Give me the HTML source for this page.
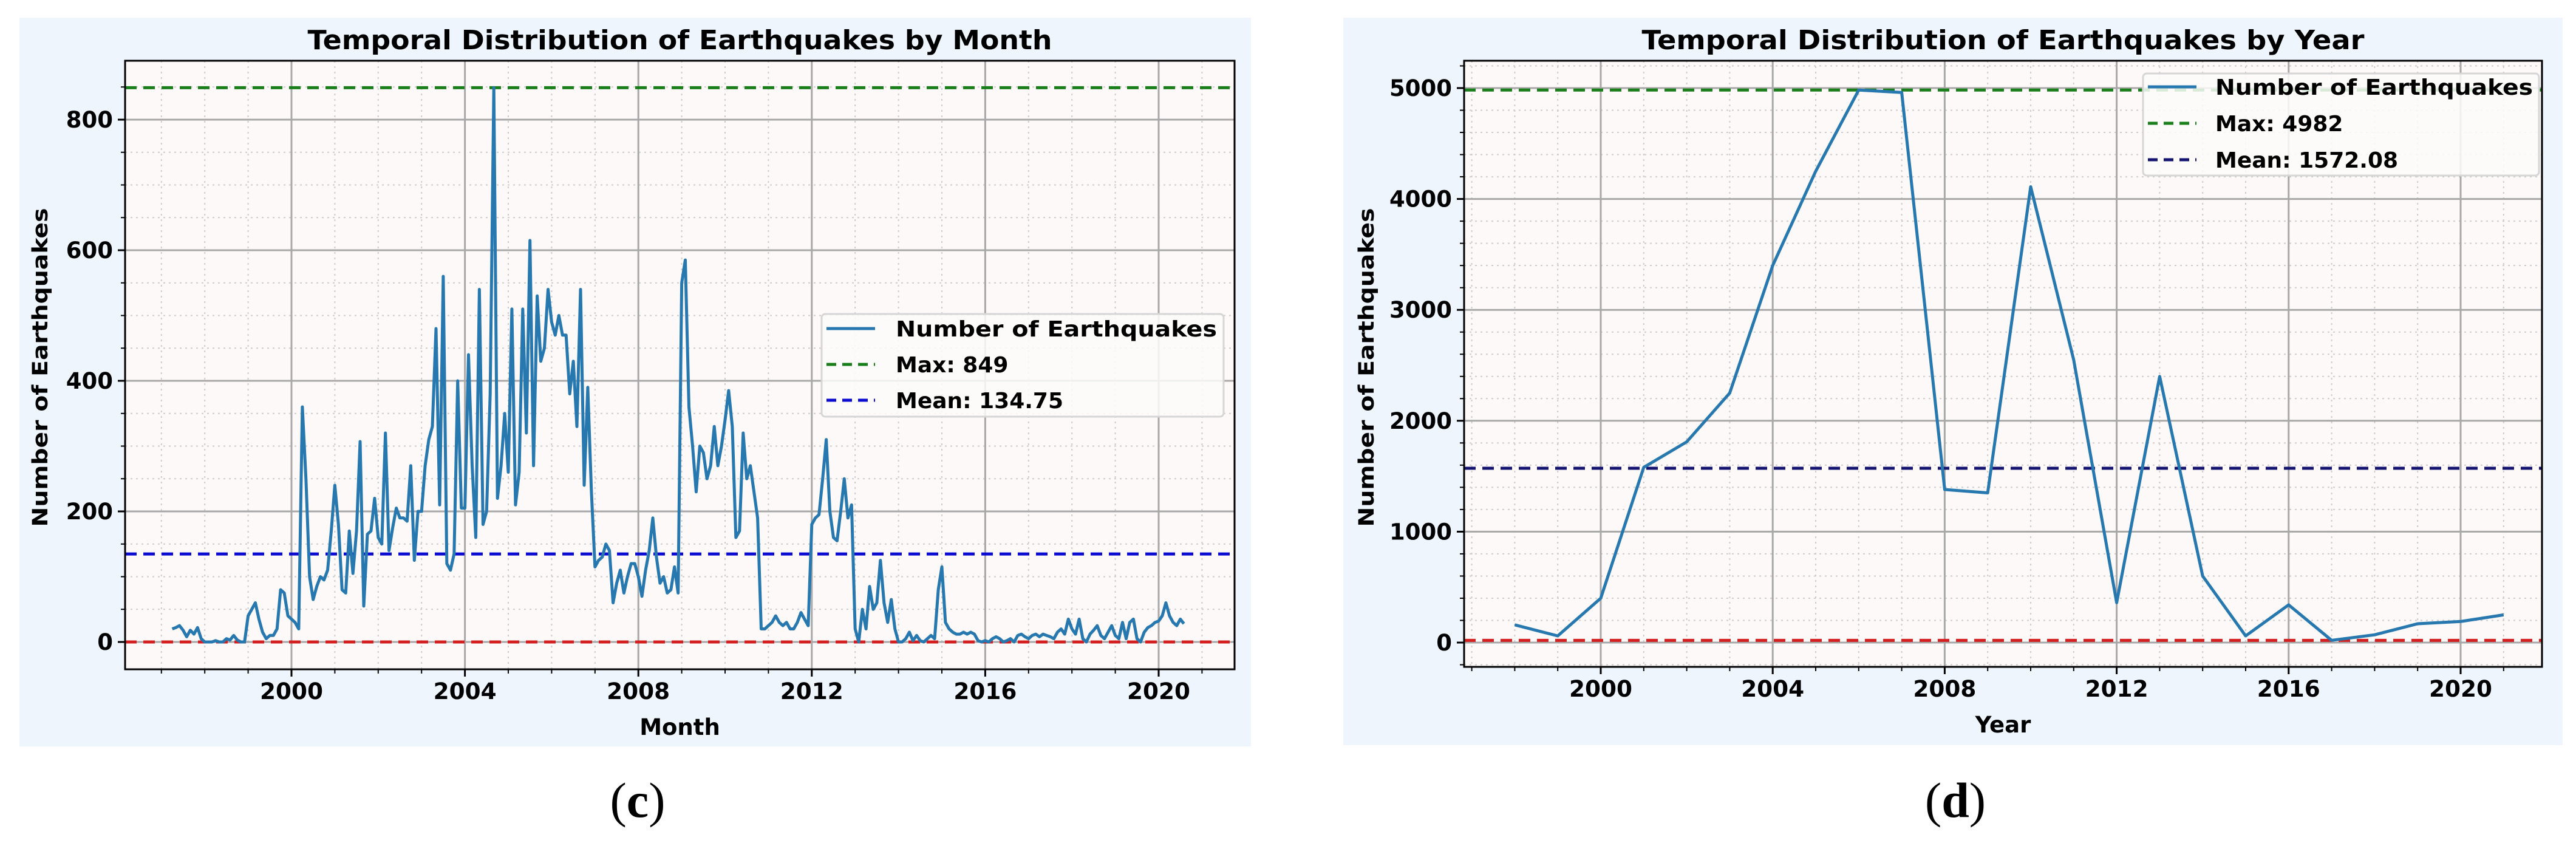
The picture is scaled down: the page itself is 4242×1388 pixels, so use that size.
<!DOCTYPE html>
<html><head><meta charset="utf-8">
<style>
html,body{margin:0;padding:0;background:#fff;}
svg{display:block;font-family:"DejaVu Sans","Liberation Sans",sans-serif;}
</style></head>
<body>
<svg id="root" width="4242" height="1388" viewBox="0 0 4242 1388" xmlns="http://www.w3.org/2000/svg">
  <rect x="0" y="0" width="4242" height="1388" fill="#ffffff"/>
  <rect x="32" y="29" width="2028" height="1200" fill="#eef5fd"/>
  <rect x="2212" y="29" width="2008" height="1198" fill="#eef5fd"/>
  <g id="chartC"></g>
  <g id="chartD"></g>
  <text x="1050" y="1345" font-family="Liberation Serif, serif" font-size="82" text-anchor="middle" fill="#000">(<tspan font-weight="bold">c</tspan>)</text>
  <text x="3220" y="1345" font-family="Liberation Serif, serif" font-size="82" text-anchor="middle" fill="#000">(<tspan font-weight="bold">d</tspan>)</text>
</svg>
<script>
// ---- Monthly chart data (Apr 1997 .. Aug 2020) ----
const monthStartYear = 1997;
const monthStartMonth = 3; // 0-based April
const monthlyCounts = [
 20,22,25,18,8,18,12,22,5,
 0,0,0,2,0,0,5,3,10,3,0,0,
 40,50,60,35,15,5,10,10,20,80,75,40,
 35,30,20,360,250,100,65,85,100,95,110,170,
 240,180,80,75,170,105,170,307,55,165,170,220,
 160,150,320,140,175,205,190,190,185,270,125,200,
 200,270,310,330,480,210,560,120,110,135,400,205,
 205,440,270,160,540,180,200,380,849,220,270,350,
 260,510,210,260,510,320,615,270,530,430,450,540,
 490,470,500,470,470,380,430,330,540,240,390,230,
 115,125,130,150,140,60,90,110,75,100,120,120,
 100,70,110,140,190,130,90,100,75,80,115,75,
 550,585,360,300,230,300,290,250,270,330,270,300,
 340,385,330,160,170,320,250,270,230,190,20,20,
 25,30,40,30,25,30,20,20,30,45,35,25,
 180,190,195,250,310,200,160,155,200,250,190,210,
 20,0,50,20,85,50,60,125,60,30,65,20,
 0,0,5,15,2,10,2,0,5,10,5,80,
 115,30,20,15,12,12,15,12,15,12,2,0,
 2,0,5,8,5,0,2,5,0,10,12,8,
 5,10,12,8,12,10,8,5,15,20,12,35,
 20,12,35,5,0,12,18,25,10,5,15,25,
 10,5,30,5,30,35,5,0,15,22,25,30,
 32,40,60,40,30,25,35,28
];
const monthlyMax = 849;
const monthlyMean = 134.75;
const monthlyMin = 0;
const monthlyYTicks = [0,200,400,600,800];
const monthlyXTicks = [2000,2004,2008,2012,2016,2020];

// ---- Yearly chart data ----
const years = [1998,1999,2000,2001,2002,2003,2004,2005,2006,2007,2008,2009,2010,2011,2012,2013,2014,2015,2016,2017,2018,2019,2020,2021];
const yearlyCounts = [160,60,400,1580,1810,2250,3400,4250,4982,4960,1380,1350,4110,2550,360,2400,600,60,340,20,70,170,190,250];
const yearlyMax = 4982;
const yearlyMean = 1572.08;
const yearlyMin = 20;
const yearlyYTicks = [0,1000,2000,3000,4000,5000];
const yearlyXTicks = [2000,2004,2008,2012,2016,2020];

const NS = "http://www.w3.org/2000/svg";
function mk(parent, tag, attrs, text){
  const e = document.createElementNS(NS, tag);
  for (const k in attrs) e.setAttribute(k, attrs[k]);
  if (text !== undefined) e.textContent = text;
  parent.appendChild(e);
  return e;
}

function drawChart(g, cfg){
  const L=cfg.left,R=cfg.right,T=cfg.top,B=cfg.bottom;
  const xs = v => cfg.x0px + (v - cfg.x0val) * cfg.pxPerX;
  const ys = v => cfg.y0px - v * cfg.pxPerY;
  const bg = mk(g,'rect',{x:L,y:T,width:R-L,height:B-T,fill:'#fcf9f8'});
  
  
  for (let v=cfg.yMinorStart; ys(v)>=T; v+=cfg.yMinor){
    const y=ys(v); if (y>B) continue;
    const l=mk(g,'line',{x1:L,x2:R,y1:y,y2:y,stroke:'#cfcccc','stroke-width':2,'stroke-dasharray':'3 6'});
    
    
    mk(g,'line',{x1:L-7,x2:L,y1:y,y2:y,stroke:'#000','stroke-width':2});
  }
  for (let v=cfg.xMinorStart; xs(v)<=R; v+=1){
    const x=xs(v); if (x<L) continue;
    const l=mk(g,'line',{x1:x,x2:x,y1:T,y2:B,stroke:'#cfcccc','stroke-width':2,'stroke-dasharray':'3 6'});
    
    
    mk(g,'line',{x1:x,x2:x,y1:B,y2:B+7,stroke:'#000','stroke-width':2});
  }
  cfg.yTicks.forEach(v=>{
    const y=ys(v);
    const l=mk(g,'line',{x1:L,x2:R,y1:y,y2:y,stroke:'#a8a8a8','stroke-width':3});
    
    
    mk(g,'line',{x1:L-12,x2:L,y1:y,y2:y,stroke:'#000','stroke-width':3});
    const t=mk(g,'text',{x:L-20,y:y+13,'font-size':37,'font-weight':'bold','text-anchor':'end',fill:'#000'},String(v));
    
    
  });
  cfg.xTicks.forEach(v=>{
    const x=xs(v);
    const l=mk(g,'line',{x1:x,x2:x,y1:T,y2:B,stroke:'#a8a8a8','stroke-width':3});
    
    
    mk(g,'line',{x1:x,x2:x,y1:B,y2:B+12,stroke:'#000','stroke-width':3});
    const t=mk(g,'text',{x:x,y:B+49,'font-size':37,'font-weight':'bold','text-anchor':'middle',fill:'#000',textLength:104,lengthAdjust:'spacingAndGlyphs'},String(v));
    
    
  });
  const refs=[[cfg.min,'#d42020','min-line'],[cfg.max,'#1a7f1a','max-line'],[cfg.mean,cfg.meanColor,'mean-line']];
  refs.forEach(r=>{
    const y=ys(r[0]);
    const l=mk(g,'line',{x1:L,x2:R,y1:y,y2:y,stroke:r[1],'stroke-width':5,'stroke-dasharray':'19 11'});
    
    
  });
  let d='';
  cfg.pts.forEach((p,i)=>{ d+=(i?'L':'M')+xs(p[0]).toFixed(1)+' '+ys(p[1]).toFixed(1); });
  const path=mk(g,'path',{d:d,fill:'none',stroke:'#2878b0','stroke-width':cfg.lw,'stroke-linejoin':'round'});
  
  
  const sp=mk(g,'rect',{x:L,y:T,width:R-L,height:B-T,fill:'none',stroke:'#000','stroke-width':3});
  
  
  const ti=mk(g,'text',{x:(L+R)/2,y:T-19,'font-size':44,'font-weight':'bold','text-anchor':'middle',fill:'#000',textLength:cfg.titleLen,lengthAdjust:'spacingAndGlyphs'},cfg.title);
  
  
  const xl=mk(g,'text',{x:(L+R)/2,y:B+108,'font-size':37,'font-weight':'bold','text-anchor':'middle',fill:'#000'},cfg.xLabel);
  
  
  const yl=mk(g,'text',{x:0,y:0,'font-size':35,'font-weight':'bold','text-anchor':'middle',fill:'#000',textLength:525,lengthAdjust:'spacingAndGlyphs',transform:'translate('+cfg.yLabelX+',605) rotate(-90)'},'Number of Earthquakes');
  
  
  const lg=mk(g,'g',{});
  
  
  const Lx=cfg.legend.x, Ly=cfg.legend.y;
  mk(lg,'rect',{x:Lx,y:Ly,width:cfg.legend.w,height:cfg.legend.h,rx:6,fill:'#fcfbfa','fill-opacity':0.85,stroke:'#d6d6d6','stroke-width':3});
  const rows=[['Number of Earthquakes','#2878b0',null,'legend-entry-count'],
              ['Max: '+cfg.max,'#1a7f1a','16 10','legend-entry-max'],
              ['Mean: '+cfg.mean,cfg.meanColor,'16 10','legend-entry-mean']];
  rows.forEach((r,i)=>{
    const cy=Ly+cfg.legend.r0+i*cfg.legend.dy;
    const a={x1:Lx+8,x2:Lx+88,y1:cy,y2:cy,stroke:r[1],'stroke-width':5};
    if (r[2]) a['stroke-dasharray']=r[2];
    mk(lg,'line',a);
    const attrs={x:Lx+cfg.legend.tx,y:cy+13,'font-size':36,'font-weight':'bold',fill:'#000'};
    if (i===0){attrs.textLength=cfg.legend.tw;attrs.lengthAdjust='spacingAndGlyphs';}
    const t=mk(lg,'text',attrs,r[0]);
    
    
  });
}

const monthPts = monthlyCounts.map((v,i)=>[monthStartYear+(monthStartMonth+i)/12, v]);
drawChart(document.getElementById('chartC'),{
  left:206,right:2033,top:100,bottom:1102,
  x0val:2000,x0px:480,pxPerX:71.4,
  y0px:1057,pxPerY:1.075,
  yTicks:monthlyYTicks,xTicks:monthlyXTicks,yMinor:50,yMinorStart:-50,xMinorStart:1997,
  min:monthlyMin,max:monthlyMax,mean:monthlyMean,meanColor:'#0a0ad0',
  pts:monthPts,lw:5,
  title:'Temporal Distribution of Earthquakes by Month',titleLen:1226,xLabel:'Month',yLabelX:78,
  legend:{x:1353,y:517,w:662,h:169,r0:24,dy:59,tx:122,tw:529}
});
const yearPts = years.map((y,i)=>[y, yearlyCounts[i]]);
drawChart(document.getElementById('chartD'),{
  left:2411,right:4186,top:100,bottom:1098,
  x0val:2000,x0px:2636,pxPerX:70.8,
  y0px:1058,pxPerY:0.1826,
  yTicks:yearlyYTicks,xTicks:yearlyXTicks,yMinor:200,yMinorStart:-200,xMinorStart:1997,
  min:yearlyMin,max:yearlyMax,mean:yearlyMean,meanColor:'#141470',
  pts:yearPts,lw:5,
  title:'Temporal Distribution of Earthquakes by Year',titleLen:1190,xLabel:'Year',yLabelX:2262,
  legend:{x:3529,y:121,w:652,h:168,r0:22,dy:60,tx:119,tw:523}
});
</script>
</body></html>
